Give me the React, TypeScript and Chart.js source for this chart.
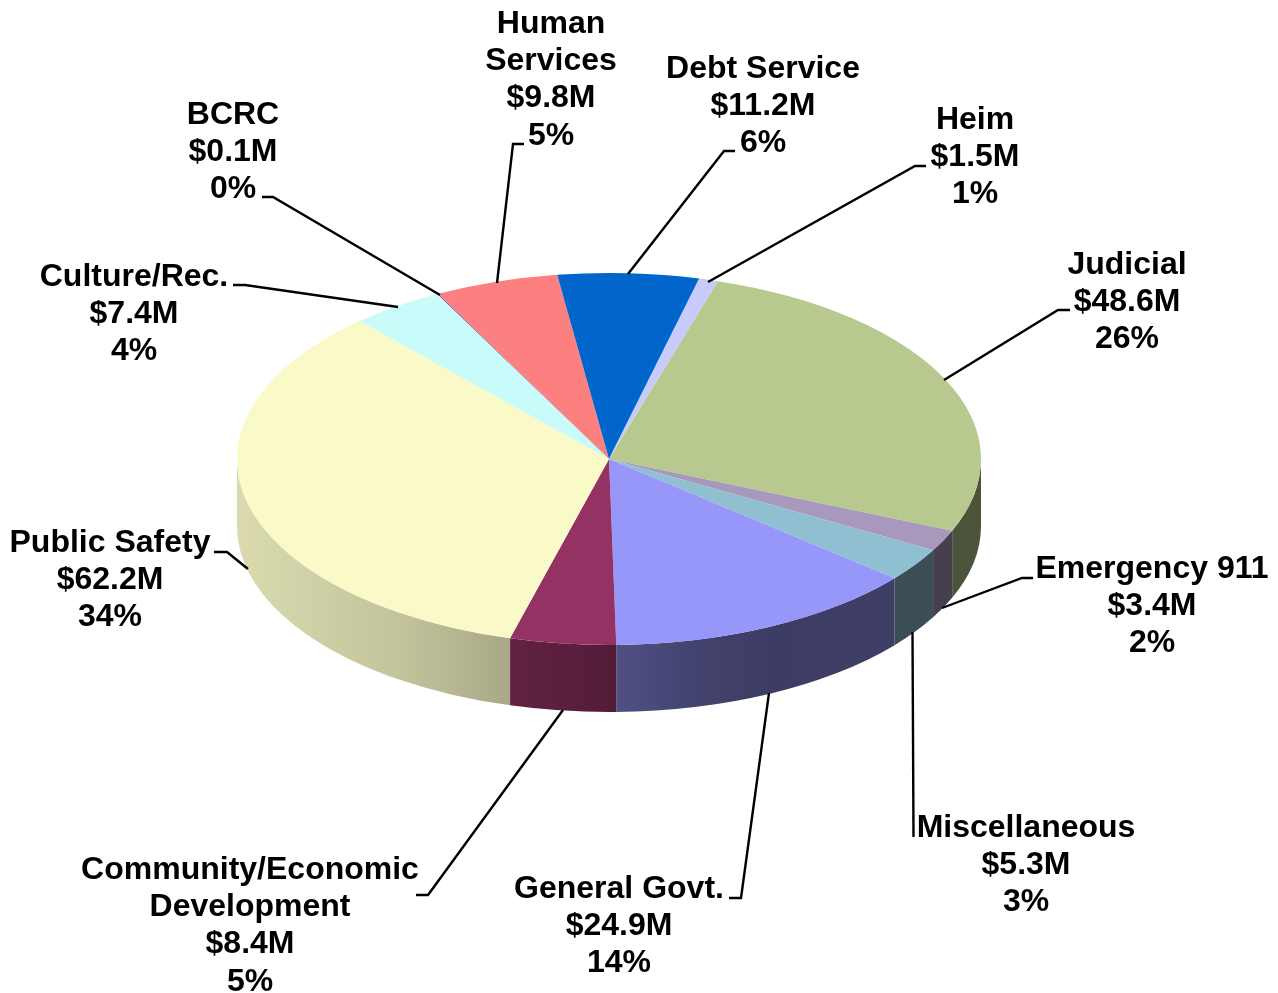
import React, { useEffect, useRef } from "react";
import { Chart, registerables } from "chart.js";

Chart.register(...registerables);

const categories: string[][] = [
  ["Judicial"],
  ["Emergency 911"],
  ["Miscellaneous"],
  ["General Govt."],
  ["Community/Economic", "Development"],
  ["Public Safety"],
  ["Culture/Rec."],
  ["BCRC"],
  ["Human", "Services"],
  ["Debt Service"],
  ["Heim"],
];
const amounts = [48.6, 3.4, 5.3, 24.9, 8.4, 62.2, 7.4, 0.1, 9.8, 11.2, 1.5];
const amountLabels = ["$48.6M", "$3.4M", "$5.3M", "$24.9M", "$8.4M", "$62.2M", "$7.4M", "$0.1M", "$9.8M", "$11.2M", "$1.5M"];
const percentLabels = ["26%", "2%", "3%", "14%", "5%", "34%", "4%", "0%", "5%", "6%", "1%"];
const colors = ["#B8C98F", "#A899BC", "#8FBFD0", "#9797FA", "#933263", "#FAFAC8", "#C9FBFB", "#7B4A9A", "#FD8080", "#0066CC", "#CACAFA"];

const labelAnchors: [number, number][] = [
  [1127, 274], [1152, 578], [1026, 837], [619, 898], [250, 879], [110, 552],
  [134, 286], [233, 124], [551, 33], [763, 78], [975, 129],
];
const leaderPaths: [number, number][][] = [
  [[1070, 310], [1058, 310], [944, 380]],
  [[1033, 578], [1022, 578], [942, 608]],
  [[912.5, 632], [913.5, 837]],
  [[729, 898], [741, 898], [769, 693]],
  [[416, 895], [428, 895], [563, 710]],
  [[214, 552], [227, 552], [248, 569]],
  [[233, 285], [245, 285], [398, 307]],
  [[262, 197], [273, 197], [440, 295]],
  [[524, 144], [513, 144], [497, 283]],
  [[735, 151], [724, 151], [628, 274]],
  [[926, 166], [915, 166], [708, 282]],
];
const shadeStops: [number, number][] = [
  [237, 0.87], [300, 0.84], [400, 0.78], [510, 0.67], [560, 0.62], [614, 0.56],
  [616, 0.53], [700, 0.44], [770, 0.4], [900, 0.41], [981, 0.42],
];

const SQUASH = 0.5;
const DEPTH = 67;
const FONT = 'bold 32px "Liberation Sans", Arial, sans-serif';
const LINE = 37.2;

function shade(hex: string, f: number) {
  const n = parseInt(hex.slice(1), 16);
  return `rgb(${Math.round((n >> 16) * f)},${Math.round(((n >> 8) & 255) * f)},${Math.round((n & 255) * f)})`;
}

const pie3d = {
  id: "pie3d",
  beforeDatasetsDraw(chart: any) {
    const ctx = chart.ctx as CanvasRenderingContext2D;
    const arcs = chart.getDatasetMeta(0).data as any[];
    const { x: cx, y: cy, outerRadius: rx } = arcs[0];
    const ry = rx * SQUASH;
    // outer wall of the disc, taken from each slice's own angles
    arcs.forEach((arc, i) => {
      const a = Math.max(arc.startAngle, 0);
      const b = Math.min(arc.endAngle, Math.PI);
      if (b <= a) return;
      const g = ctx.createLinearGradient(237, 0, 981, 0);
      shadeStops.forEach(([x, f]) => g.addColorStop((x - 237) / 744, shade(colors[i], f)));
      ctx.beginPath();
      ctx.ellipse(cx, cy, rx, ry, 0, a, b);
      ctx.ellipse(cx, cy + DEPTH, rx, ry, 0, b, a, true);
      ctx.closePath();
      ctx.fillStyle = g;
      ctx.fill();
    });
    ctx.save();
    ctx.translate(cx, cy);
    ctx.scale(1, SQUASH);
    ctx.translate(-cx, -cy);
  },
  afterDatasetsDraw(chart: any) {
    const ctx = chart.ctx as CanvasRenderingContext2D;
    ctx.restore();
    ctx.strokeStyle = "#000";
    ctx.lineWidth = 2.4;
    ctx.lineJoin = "miter";
    leaderPaths.forEach((p) => {
      ctx.beginPath();
      p.forEach(([x, y], k) => (k ? ctx.lineTo(x, y) : ctx.moveTo(x, y)));
      ctx.stroke();
    });
    ctx.fillStyle = "#000";
    ctx.font = FONT;
    ctx.textAlign = "center";
    ctx.textBaseline = "alphabetic";
    categories.forEach((name, i) => {
      const lines = [...name, amountLabels[i], percentLabels[i]];
      const [x, y] = labelAnchors[i];
      lines.forEach((t, k) => ctx.fillText(t, x, y + k * LINE));
    });
  },
};

export default function App() {
  const ref = useRef<HTMLCanvasElement>(null);
  useEffect(() => {
    const chart = new Chart(ref.current!, {
      type: "pie",
      data: {
        labels: categories.map((c) => c.join(" ")),
        datasets: [{ data: amounts, backgroundColor: colors, borderWidth: 0, clip: false } as any],
      },
      options: {
        animation: false,
        responsive: false,
        rotation: 17,
        devicePixelRatio: 1,
        layout: { padding: { left: 237, right: 297, top: 87, bottom: 162 } },
        plugins: { legend: { display: false }, tooltip: { enabled: false } },
      },
      plugins: [pie3d],
    });
    return () => chart.destroy();
  }, []);
  return (
    <canvas
      ref={ref}
      width={1278}
      height={993}
      style={{ position: "absolute", left: 0, top: 0, display: "block", background: "#fff" }}
    />
  );
}
